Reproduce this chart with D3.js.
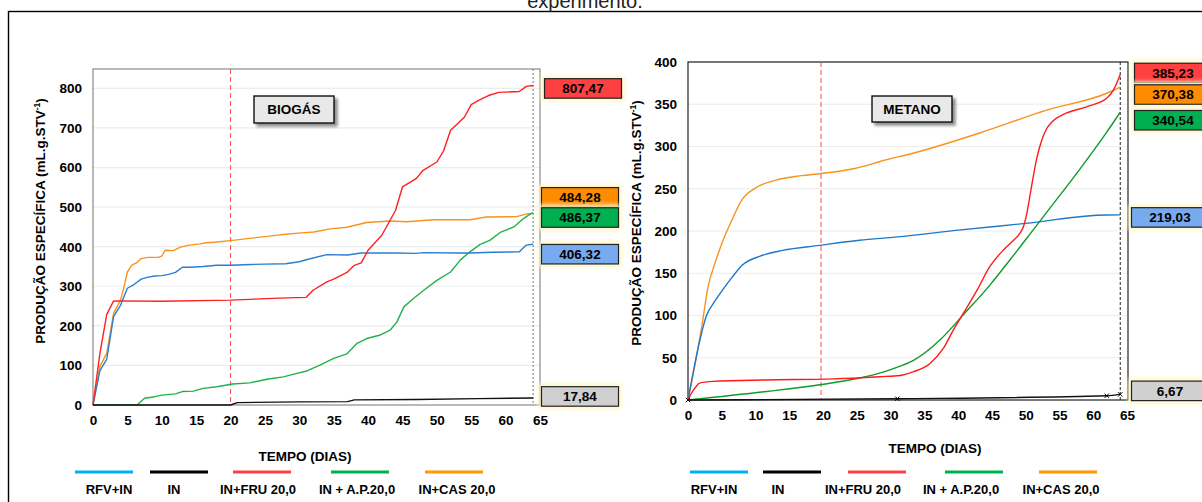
<!DOCTYPE html>
<html><head><meta charset="utf-8">
<script src="https://cdn.jsdelivr.net/npm/d3@7"></script>
<style>
body{margin:0;background:#fff}
svg{display:block}
text{font-family:"Liberation Sans",Arial,sans-serif}
</style>
</head><body>
<svg id="c" width="1202" height="502"></svg>
<script>
// ---------- DATA ----------
const seriesNames = ["RFV+IN", "IN", "IN+FRU 20,0", "IN + A.P.20,0", "IN+CAS 20,0"];
const xTickValues = [0,5,10,15,20,25,30,35,40,45,50,55,60,65];
const biogasYTicks = [0,100,200,300,400,500,600,700,800];
const metanoYTicks = [0,50,100,150,200,250,300,350,400];

// BIOGÁS (left)
const bioRfvDays = [0,1,2,3,4,5,6,7,8,9,10,11,12,13,14,16,18,20,23,25,28,30,31,34,37,39,44,47,48,53,55,58,62,63,64];
const bioRfvVals = [0,86,116,224,252,295,305,318,323,326,327,330,335,348,348,350,353,353,355,356,357,362,367,380,379,384,384,383,385,384,384,386,387,404,406.32];
const bioInDays = [0,20,21,30,37,38,47,56,64];
const bioInVals = [0,0,6,8,8.5,13,14,16,17.84];
const bioFruDays = [0,1,2,3,10,20,27,31,32,34,35,37,38,39,40,42,44,45,47,48,50,51,52,54,55,56,57.5,59,62,63,64];
const bioFruVals = [0,130,229,263,262,265,270,272,290,311,318,336,353,359,391,429,492,551,572,593,614,643,694,727,759,769,782,790,792,805,807.47];
const bioApDays = [0,6.4,7.5,9,10,12,13,14.6,16,18,20.3,22.8,25.3,27.7,29.2,31.1,33,35,36.9,38.4,39.8,41.8,43.2,44.2,45.2,46.6,48.1,50,52,53.4,54.8,56.3,57.7,59.3,61.2,62.6,63.6,64];
const bioApVals = [0,0,17,21,25,28,34,35,42,46,53,56,65,71,78,86,101,118,129,156,168,177,189,210,248,269,290,315,336,366,387,406,416,437,450,471,483,486.37];
const bioCasDays = [0,1,2,3,4,4.5,5,5.6,6.3,7,8,9.5,10,10.5,11.7,12.7,14,15.6,16.5,18,20.3,25.3,27.2,30.3,32.1,34.5,36.9,39.8,43.2,45.6,49.5,54.8,57.2,61.6,63.1,64];
const bioCasVals = [0,97,131,232,265,298,336,353,359,370,373,373,376,391,390,399,404,407,410,412,416,426,430,435,437,445,449,461,465,463,468,468,475,476,483,484.28];
const bioFinalOrder = [2,4,3,0,1];                // FRU, CAS, AP, RFV, IN
const bioFinalLabels = ["807,47","484,28","486,37","406,32","17,84"];
const bioFinalValues = [807.47,484.28,486.37,406.32,17.84];
const bioDivider = 20, bioEnd = 64;

// METANO (right)
const metRfvDays = [0,2,2.7,3.9,5.1,6.6,8.1,10.6,14,19.5,25.4,31,40,50,62,64];
const metRfvVals = [0,79,99,116,130,146,160,170,177,183,189,193,201,209,219,219.03];
const metInDays = [0,31,62,64];
const metInVals = [0,1.5,5,6.67];
const metFruDays = [0,0.5,1.2,1.7,3.7,11.6,21.5,28.4,31.4,33.4,35.8,37.8,39.3,40.8,42.8,44.7,46.7,48.2,49.2,49.7,50.2,50.7,51.2,51.7,52.4,53.1,54,55.6,59,62,63,64];
const metFruVals = [0,8,16,20,22,23.7,25,27.6,29,33.5,43,61,83,103,130,158,177.5,189,198,206,222,245,268,288,308,321,330,338,347,357,367,385.23];
const metApDays = [0,11.6,19.5,25.4,28.9,31.4,33.4,37.3,41,44.7,47.2,50.6,53.1,58,62,64];
const metApVals = [0,10,18,26,33,40,47,71,103,136,161,196,222,273,317,340.54];
const metCasDays = [0,1,2,3,4,5,6.5,8,9.9,12.9,16.8,19.7,24.7,29.2,33.3,43.2,53.1,62,64];
const metCasVals = [0,40,85,135,162,185,213,237,250.5,260,265.5,268,274,284,292,316,343,363,370.38];
const metFinalLabels = ["385,23","370,38","340,54","219,03","6,67"];
const metFinalValues = [385.23,370.38,340.54,219.03,6.67];
const metDivider = 19.7, metEnd = 64;

// ---------- STYLE ----------
const legendColors = ["#00b0f0","#000000","#ff4040","#00b050","#ff9900"];
const bioLineColors = ["#2a7fd0","#111111","#ff2020","#22b04a","#f7931e"];
const metLineColors = ["#1f78c8","#111111","#ff1a1a","#109a28","#f7931e"];
const boxColors = {2:"#ff4040",4:"#ff8c00",3:"#00b050",0:"#78aaf0",1:"#d0d0d0"};
const FONT = 13.5;

const svg = d3.select("#c");
const defs = svg.append("defs");
const glow = defs.append("filter").attr("id","glow").attr("x","-30%").attr("y","-60%").attr("width","160%").attr("height","220%");
glow.append("feGaussianBlur").attr("stdDeviation",2.2);
const sh = defs.append("filter").attr("id","shadow").attr("x","-20%").attr("y","-30%").attr("width","150%").attr("height","180%");
sh.append("feGaussianBlur").attr("in","SourceAlpha").attr("stdDeviation",1.6);
sh.append("feOffset").attr("dx",2.5).attr("dy",2.5).attr("result","o");
sh.append("feComponentTransfer").append("feFuncA").attr("type","linear").attr("slope",0.45);
const m = sh.append("feMerge"); m.append("feMergeNode"); m.append("feMergeNode").attr("in","SourceGraphic");

// outer frame + cut title
svg.append("rect").attr("x",8.5).attr("y",11.5).attr("width",1300).attr("height",600)
  .attr("fill","none").attr("stroke","#000").attr("stroke-width",1.4);
svg.append("text").attr("x",585).attr("y",8).attr("text-anchor","middle")
  .attr("font-size",20).attr("fill","#222").text("experimento.");

function zip(d,v){ return d.map((x,i)=>[x,v[i]]); }

function drawChart(cfg){
  const g = svg.append("g");
  const x = d3.scaleLinear().domain([0,65]).range([cfg.x0,cfg.x1]);
  const y = d3.scaleLinear().domain([0,cfg.yMax]).range([cfg.y0,cfg.yTop]);

  g.append("g").selectAll("line").data(cfg.yTicks.filter(t=>t>0)).join("line")
    .attr("x1",cfg.x0).attr("x2",cfg.xFrame).attr("y1",d=>y(d)).attr("y2",d=>y(d))
    .attr("stroke","#ececec").attr("stroke-width",1.2);

  g.append("rect").attr("x",cfg.x0).attr("y",cfg.frameTop).attr("width",cfg.xFrame-cfg.x0).attr("height",cfg.y0-cfg.frameTop)
    .attr("fill","none").attr("stroke",cfg.frameColor).attr("stroke-width",1.2);

  g.append("line").attr("x1",x(cfg.divider)).attr("x2",x(cfg.divider)).attr("y1",cfg.frameTop).attr("y2",cfg.y0)
    .attr("stroke","#ff4d4d").attr("stroke-width",1).attr("stroke-dasharray","5,3");
  g.append("line").attr("x1",x(cfg.end)).attr("x2",x(cfg.end)).attr("y1",cfg.frameTop).attr("y2",cfg.y0)
    .attr("stroke",cfg.endColor).attr("stroke-width",1).attr("stroke-dasharray",cfg.endDash);

  const ya = d3.axisLeft(y).tickValues(cfg.yTicks).tickSize(0).tickPadding(0);
  const yg = g.append("g").attr("transform",`translate(${cfg.yLabelX},0)`).call(ya);
  yg.select(".domain").remove();
  yg.selectAll("text").attr("font-size",FONT).attr("font-weight","bold").attr("fill","#000")
    .attr("font-family","Liberation Sans, Arial, sans-serif");
  const xa = d3.axisBottom(x).tickValues(xTickValues).tickSize(0).tickPadding(0);
  const xg = g.append("g").attr("transform",`translate(0,${cfg.xLabelY})`).call(xa);
  xg.select(".domain").remove();
  xg.selectAll("text").attr("font-size",FONT).attr("font-weight","bold").attr("fill","#000")
    .attr("font-family","Liberation Sans, Arial, sans-serif");

  const line = d3.line().x(d=>x(d[0])).y(d=>y(d[1])).curve(cfg.curve);
  const order = [4,3,0,2,1];
  order.forEach(i=>{
    g.append("path").datum(cfg.series[i]).attr("d",line).attr("fill","none")
      .attr("stroke",cfg.colors[i]).attr("stroke-width",1.4).attr("stroke-linejoin","round");
  });
  if(cfg.markers){
    g.append("g").selectAll("path").data(cfg.series[1]).join("path")
      .attr("transform",d=>`translate(${x(d[0])},${y(d[1])})`)
      .attr("d",d3.symbol(d3.symbolTimes,14)).attr("stroke","#000").attr("stroke-width",1).attr("fill","none");
  }

  const tb = cfg.titleBox;
  g.append("rect").attr("x",tb.x).attr("y",tb.y).attr("width",tb.w).attr("height",tb.h)
    .attr("fill","#e8e8e8").attr("stroke","#111").attr("stroke-width",1.4).attr("filter","url(#shadow)");
  g.append("text").attr("x",tb.x+tb.w/2).attr("y",tb.y+tb.h/2).attr("dy","0.36em").attr("text-anchor","middle")
    .attr("font-size",FONT).attr("font-weight","bold").text(tb.text);

  cfg.finalOrder.forEach((si,k)=>{
    const cy = y(cfg.finalValues[k]) + cfg.boxOffsets[k];
    const bx = cfg.boxX[k], bw = cfg.boxW, bh = 19.5;
    g.append("rect").attr("x",bx-3).attr("y",cy-bh/2-3).attr("width",bw+6).attr("height",bh+6)
      .attr("fill","#fff6c8").attr("filter","url(#glow)");
    g.append("rect").attr("x",bx).attr("y",cy-bh/2).attr("width",bw).attr("height",bh)
      .attr("fill",boxColors[si]).attr("stroke","#222").attr("stroke-width",1.2);
    g.append("text").attr("x",bx+bw/2).attr("y",cy).attr("dy","0.36em").attr("text-anchor","middle")
      .attr("font-size",FONT).attr("font-weight","bold").attr("fill","#000").text(cfg.finalLabels[k]);
  });

  const yt = g.append("text").attr("transform",`translate(${cfg.yTitleX},${cfg.yTitleY}) rotate(-90)`)
    .attr("text-anchor","middle").attr("dy","0.36em").attr("font-size",FONT).attr("font-weight","bold");
  yt.append("tspan").text("PRODUÇÃO ESPECÍFICA (mL.g.STV");
  yt.append("tspan").attr("font-size",8.5).attr("dy",-5).text("-1");
  yt.append("tspan").attr("dy",5).text(")");

  g.append("text").attr("x",cfg.xTitleX).attr("y",cfg.xTitleY).attr("dy","0.36em").attr("text-anchor","middle")
    .attr("font-size",FONT).attr("font-weight","bold").text("TEMPO (DIAS)");

  seriesNames.forEach((n,i)=>{
    g.append("line").attr("x1",cfg.legLines[i][0]).attr("x2",cfg.legLines[i][1])
      .attr("y1",cfg.legY).attr("y2",cfg.legY).attr("stroke",legendColors[i]).attr("stroke-width",3);
    g.append("text").attr("x",cfg.legText[i]).attr("y",cfg.legTextY).attr("dy","0.36em").attr("text-anchor","middle")
      .attr("font-size",FONT-0.5).attr("font-weight","bold").text(n);
  });
}

drawChart({
  x0:93, x1:540, xFrame:540, y0:405, yTop:68.6, frameTop:69, yMax:850,
  yTicks:biogasYTicks, frameColor:"#8a8a8a", endColor:"#777", endDash:"2,2",
  divider:bioDivider, end:bioEnd, yLabelX:82, xLabelY:415,
  curve:d3.curveLinear, colors:bioLineColors, markers:false,
  series:[zip(bioRfvDays,bioRfvVals),zip(bioInDays,bioInVals),zip(bioFruDays,bioFruVals),zip(bioApDays,bioApVals),zip(bioCasDays,bioCasVals)],
  titleBox:{x:254,y:96,w:80,h:27,text:"BIOGÁS"},
  finalOrder:bioFinalOrder, finalLabels:bioFinalLabels, finalValues:bioFinalValues,
  boxOffsets:[3,-16,5,10,-1.5], boxX:[544.5,541.5,541.5,541.5,541.5], boxW:77,
  yTitleX:40, yTitleY:221, xTitleX:305, xTitleY:456,
  legLines:[[75,133],[150,208],[233,291],[331,389],[425,483]], legY:472,
  legText:[109,174,258,357,457], legTextY:489
});

drawChart({
  x0:688, x1:1127, xFrame:1128, y0:400, yTop:62, frameTop:62, yMax:400,
  yTicks:metanoYTicks, frameColor:"#222", endColor:"#222", endDash:"3,2",
  divider:metDivider, end:metEnd, yLabelX:677, xLabelY:410,
  curve:d3.curveMonotoneX, colors:metLineColors, markers:true,
  series:[zip(metRfvDays,metRfvVals),zip(metInDays,metInVals),zip(metFruDays,metFruVals),zip(metApDays,metApVals),zip(metCasDays,metCasVals)],
  titleBox:{x:872,y:96,w:80,h:26,text:"METANO"},
  finalOrder:bioFinalOrder, finalLabels:metFinalLabels, finalValues:metFinalValues,
  boxOffsets:[-1.5,7.5,8,2.5,-3.5], boxX:[1134.5,1134.5,1134.5,1131.5,1131.5], boxW:77,
  yTitleX:636, yTitleY:223, xTitleX:935, xTitleY:448,
  legLines:[[690,748],[763,821],[848,906],[945,1003],[1039,1097]], legY:472,
  legText:[714,778,863,961,1061], legTextY:489
});
</script>
</body></html>
